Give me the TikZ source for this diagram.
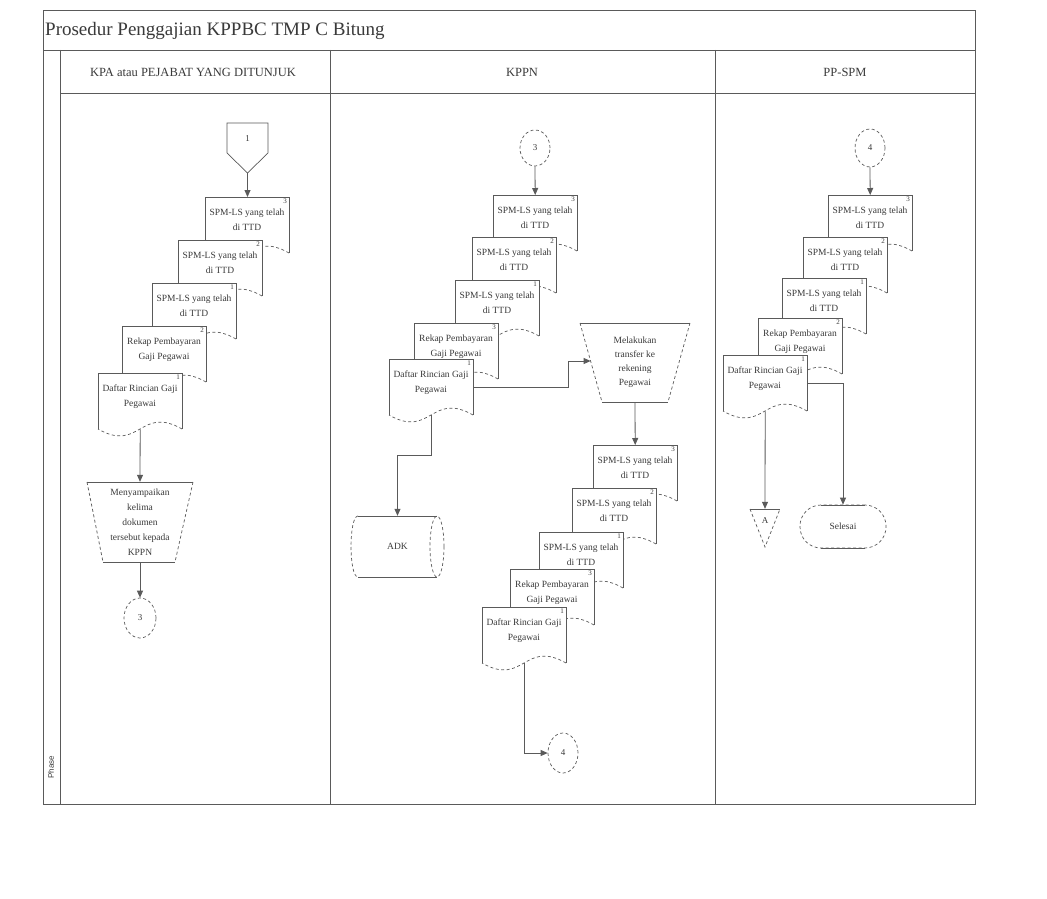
\documentclass[tikz,border=0pt]{standalone}
\usepackage{fontspec}
\setmainfont{Liberation Serif}
\setsansfont{Liberation Sans}
\usetikzlibrary{arrows.meta,shapes.geometric}
\definecolor{ink}{HTML}{5A5A5A}
\definecolor{txt}{HTML}{3A3A3A}
\tikzset{
 ln/.style={draw=ink, line width=0.7pt},
 wave/.style={draw=ink, line width=0.7pt, dash pattern=on 3pt off 2.5pt},
 arr/.style={draw=ink, line width=0.8pt, -{Triangle[length=7pt,width=6pt]}},
 docbox/.style={inner sep=0, minimum width=84, minimum height=56, draw=none},
 doctext/.style={font=\fontsize{9.5}{15}\selectfont, text=txt, align=center, inner sep=0},
 docnum/.style={font=\fontsize{7}{7}\selectfont, text=txt, inner sep=0},
 conn/.style={ellipse, draw=ink, line width=0.7pt, dash pattern=on 3pt off 2.5pt, inner sep=0, font=\fontsize{9}{9}\selectfont, text=txt},
 lbl/.style={font=\fontsize{9.5}{15}\selectfont, text=txt, align=center, inner sep=0},
 hdr/.style={font=\fontsize{12.5}{12.5}\selectfont, text=txt, inner sep=0},
}
\newcommand\docu[5]{%
 \fill[white] (#2,#3) -- (#2+84,#3) -- (#2+84,#3+56) .. controls (#2+42,#3+32) and (#2+42,#3+80) .. (#2,#3+56) -- cycle;
 \draw[ln] (#2,#3+56) -- (#2,#3) -- (#2+84,#3) -- (#2+84,#3+56);
 \draw[wave] (#2+84,#3+56) .. controls (#2+42,#3+32) and (#2+42,#3+80) .. (#2,#3+56);
 \node[docbox, anchor=north west] (#1) at (#2,#3) {};
 \node[doctext, anchor=north] (#1-t) at (#2+42,#3+12) {#5};
 \node[docnum, anchor=north east] (#1-n) at (#2+82,#3+2) {#4};
}
\begin{document}
\begin{tikzpicture}[x=1pt,y=-1pt]
\useasboundingbox (0,0) rectangle (1047,899);
\fill[white] (0,0) rectangle (1047,899);

% frame
\draw[ln] (43,10) rectangle (975,804);
\draw[ln] (43,50) -- (975,50);
\draw[ln] (60,50) -- (60,804);
\draw[ln] (60,93) -- (975,93);
\draw[ln] (330,50) -- (330,804);
\draw[ln] (715,50) -- (715,804);
\node[font=\fontsize{19}{19}\selectfont, text=txt, anchor=west, inner sep=0] (title) at (45,31) {Prosedur Penggajian KPPBC TMP C Bitung};
\node[hdr] (h1) at (193,72) {KPA atau PEJABAT YANG DITUNJUK};
\node[hdr] (h2) at (522,72) {KPPN};
\node[hdr] (h3) at (845,72) {PP-SPM};
\node[font=\sffamily\fontsize{8}{8}\selectfont, text=txt, rotate=90, inner sep=0] (phase) at (51,767) {Phase};

% ===== Lane 1: KPA =====
\draw[ln] (227,123) -- (268,123) -- (268,153) -- (247.5,173) -- (227,153) -- cycle;
\node[inner sep=0, minimum width=41, minimum height=50] (op1) at (247.5,148) {};
\node[font=\fontsize{9}{9}\selectfont, text=txt] (op1-t) at (247.5,139) {1};

\docu{l3}{205}{197}{3}{SPM-LS yang telah\\di TTD}
\docu{l2}{178}{240}{2}{SPM-LS yang telah\\di TTD}
\docu{l1}{152}{283}{1}{SPM-LS yang telah\\di TTD}
\docu{lr}{122}{326}{2}{Rekap Pembayaran\\Gaji Pegawai}
\docu{ld}{98}{373}{1}{Daftar Rincian Gaji\\Pegawai}

\draw[arr] (op1.south) -- (op1.south |- l3.north);

\draw[ln] (87,482) -- (193,482);
\draw[ln] (103,562) -- (175,562);
\draw[wave] (87,482) -- (103,562);
\draw[wave] (193,482) -- (175,562);
\node[lbl, minimum width=106, minimum height=80] (tl) at (140,522) {Menyampaikan\\kelima\\dokumen\\tersebut kepada\\KPPN};
\node[conn, minimum width=32, minimum height=40] (c3l) at (140,618) {3};

\draw[arr] (ld.south) -- (tl.north);
\draw[arr] (tl.south) -- (c3l.north);

% ===== Lane 2: KPPN =====
\node[conn, minimum width=30, minimum height=36] (c3k) at (535,148) {3};
\docu{k3}{493}{195}{3}{SPM-LS yang telah\\di TTD}
\docu{k2}{472}{237}{2}{SPM-LS yang telah\\di TTD}
\docu{k1}{455}{280}{1}{SPM-LS yang telah\\di TTD}
\docu{kr}{414}{323}{3}{Rekap Pembayaran\\Gaji Pegawai}
\docu{kd}{389}{359}{1}{Daftar Rincian Gaji\\Pegawai}
\draw[arr] (c3k.south) -- (k3.north);

% transfer trapezoid
\draw[ln] (580,323) -- (690,323);
\draw[ln] (602,402) -- (668,402);
\draw[wave] (580,323) -- (602,402);
\draw[wave] (690,323) -- (668,402);
\node[lbl, font=\fontsize{9.5}{14}\selectfont, minimum width=110, minimum height=79] (tk) at (635,362.5) {Melakukan\\transfer ke\\rekening\\Pegawai};
\coordinate (tkL) at (590.6,361);
\draw[arr] (kd.east) -- ++(95,0) |- (tkL);

% ADK storage
\draw[ln] (358,516) -- (437,516);
\draw[ln] (358,577) -- (437,577);
\draw[wave] (358,516) .. controls (348.7,516) and (348.7,577) .. (358,577);
\node[conn, minimum width=14, minimum height=61] (adkr) at (437,546.5) {};
\node[inner sep=0, minimum width=79, minimum height=61, font=\fontsize{9.5}{9.5}\selectfont, text=txt] (adk) at (397.5,546.5) {ADK};
\draw[arr] (kd.south) -- ++(0,40) -| (adk.north);

% second stack
\docu{m3}{593}{445}{3}{SPM-LS yang telah\\di TTD}
\docu{m2}{572}{488}{2}{SPM-LS yang telah\\di TTD}
\docu{m1}{539}{532}{1}{SPM-LS yang telah\\di TTD}
\docu{mr}{510}{569}{3}{Rekap Pembayaran\\Gaji Pegawai}
\docu{md}{482}{607}{1}{Daftar Rincian Gaji\\Pegawai}
\draw[arr] (tk.south) -- (m3.north);
\node[conn, minimum width=30, minimum height=40] (c4k) at (563,753) {4};
\draw[arr] (md.south) |- (c4k.west);

% ===== Lane 3: PP-SPM =====
\node[conn, minimum width=30, minimum height=38] (c4p) at (870,148) {4};
\docu{p3}{828}{195}{3}{SPM-LS yang telah\\di TTD}
\docu{p2}{803}{237}{2}{SPM-LS yang telah\\di TTD}
\docu{p1}{782}{278}{1}{SPM-LS yang telah\\di TTD}
\docu{pr}{758}{318}{2}{Rekap Pembayaran\\Gaji Pegawai}
\docu{pd}{723}{355}{1}{Daftar Rincian Gaji\\Pegawai}
\draw[arr] (c4p.south) -- (p3.north);

\node[draw=ink, line width=0.7pt, dash pattern=on 3pt off 2.5pt, rounded corners=21pt, minimum width=86, minimum height=43, inner sep=0, font=\fontsize{9.5}{9.5}\selectfont, text=txt] (sel) at (843,526.5) {Selesai};
\draw[ln] (821,505) -- (865,505);
\draw[ln] (821,548) -- (865,548);

\draw[wave] (750,509) -- (765,547) -- (780,509);
\draw[ln] (750,509) -- (780,509);
\node[inner sep=0, minimum width=30, minimum height=38] (opA) at (765,528) {};
\node[font=\fontsize{9}{9}\selectfont, text=txt] (opA-t) at (765,521) {A};

\draw[arr] (pd.east) -| (sel.north);
\draw[arr] (pd.south) -- (opA.north);
\end{tikzpicture}
\end{document}
